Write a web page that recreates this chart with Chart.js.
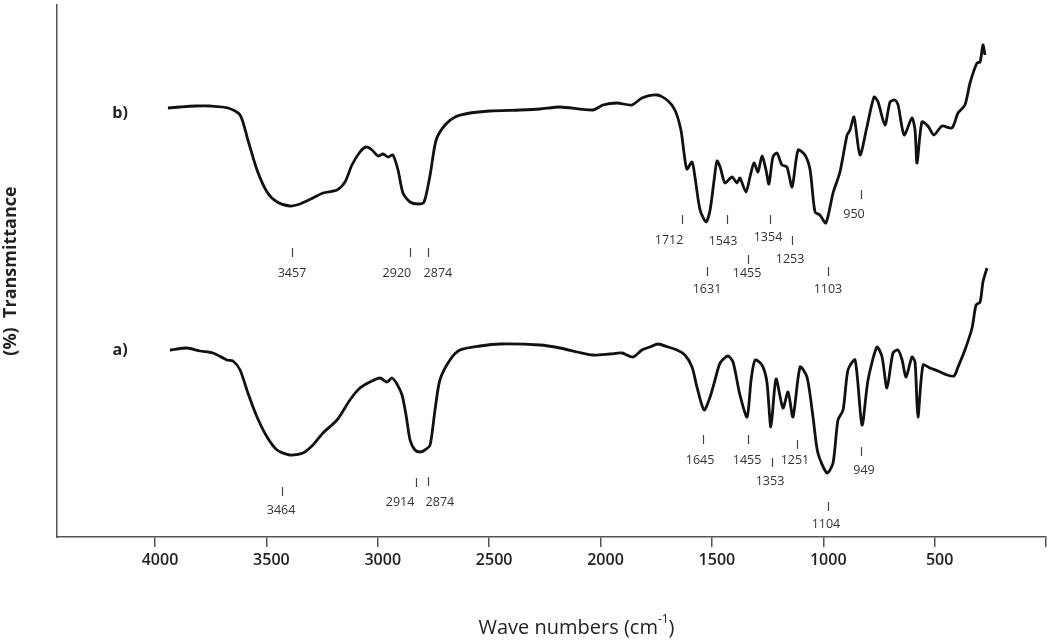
<!DOCTYPE html>
<html>
<head>
<meta charset="utf-8">
<script src="https://cdn.jsdelivr.net/npm/chart.js@4.4.1/dist/chart.umd.min.js"></script>
<style>
  html, body { margin: 0; padding: 0; background: #fff; }
</style>
</head>
<body>
<canvas id="ftir" width="1050" height="642"></canvas>
<script>
// spectrum b) - wavenumber (cm-1) / transmittance (arb. units, offset)
const waveB = [3942, 3888, 3820, 3753, 3672, 3618, 3583, 3542, 3497, 3452,
    3394, 3349, 3291, 3246, 3183, 3147, 3116, 3080, 3053, 3026,
    2999, 2976, 2954, 2932, 2909, 2887, 2855, 2819, 2792, 2765,
    2738, 2698, 2653, 2586, 2496, 2361, 2272, 2182, 2034, 1989,
    1926, 1859, 1814, 1746, 1701, 1666, 1639, 1625, 1612, 1589,
    1576, 1553, 1526, 1508, 1490, 1477, 1463, 1441, 1410, 1387,
    1374, 1347, 1329, 1311, 1293, 1275, 1257, 1244, 1226, 1208,
    1185, 1163, 1140, 1113, 1082, 1059, 1037, 1015, 988, 956,
    925, 893, 880, 862, 835, 804, 772, 754, 723, 700,
    678, 664, 637, 602, 588, 579, 557, 530, 503, 467,
    422, 395, 364, 341, 310, 296, 283, 274];
const transB = [429, 430, 431, 431, 429, 422, 397, 367, 345, 335,
    331, 333, 339, 344, 347, 355, 372, 385, 390, 387,
    381, 383, 380, 382, 367, 344, 335, 333, 335, 362,
    397, 412, 420, 424, 426, 427, 428, 430, 427, 432,
    434, 432, 439, 442, 437, 427, 407, 384, 368, 375,
    360, 327, 315, 327, 357, 376, 370, 354, 360, 354,
    359, 345, 360, 374, 365, 381, 367, 353, 380, 384,
    372, 370, 350, 387, 382, 367, 325, 322, 314, 344,
    365, 402, 407, 420, 382, 410, 440, 435, 412, 435,
    437, 432, 402, 419, 407, 374, 415, 411, 402, 411,
    409, 424, 432, 454, 474, 475, 492, 482];

// spectrum a)
const waveA = [3933, 3856, 3798, 3740, 3677, 3650, 3618, 3583, 3542, 3497,
    3452, 3394, 3336, 3291, 3246, 3183, 3125, 3080, 3035, 2990,
    2959, 2936, 2914, 2891, 2873, 2855, 2833, 2810, 2788, 2765,
    2743, 2721, 2676, 2631, 2541, 2451, 2272, 2182, 2105, 2034,
    1957, 1904, 1854, 1814, 1778, 1742, 1697, 1657, 1621, 1589,
    1567, 1535, 1508, 1486, 1463, 1428, 1405, 1374, 1342, 1324,
    1306, 1275, 1253, 1235, 1212, 1181, 1158, 1136, 1104, 1073,
    1046, 1024, 983, 956, 934, 911, 889, 857, 826, 799,
    759, 736, 714, 687, 664, 646, 628, 602, 588, 575,
    552, 521, 485, 444, 413, 395, 364, 332, 314, 296,
    283, 265];
const transA = [187, 189, 186, 184, 177, 176, 167, 144, 120, 100,
    87, 82, 84, 92, 104, 117, 137, 149, 155, 159,
    155, 159, 153, 142, 122, 97, 87, 85, 87, 92,
    127, 157, 177, 187, 191, 193, 192, 189, 185, 182,
    183, 184, 180, 187, 190, 193, 190, 187, 182, 170,
    150, 127, 140, 157, 174, 181, 175, 142, 120, 157,
    177, 172, 155, 110, 158, 129, 145, 120, 170, 160,
    120, 84, 64, 74, 117, 127, 167, 177, 112, 157,
    190, 180, 149, 184, 187, 177, 160, 180, 175, 120,
    172, 169, 166, 162, 161, 170, 187, 209, 232, 235,
    255, 269];

const xTicks = [4000, 3500, 3000, 2500, 2000, 1500, 1000, 500, 0];

// band labels: text, mark x, mark top y, label x, label y
const peaksB = [
    ['3457', 3385, 289, 3385, 264],
    ['2920', 2855, 289, 2914, 264],
    ['2874', 2774, 289, 2730, 264],
    ['1712', 1634, 322, 1692, 297],
    ['1543', 1432, 322, 1450, 296],
    ['1354', 1239, 322, 1248, 300],
    ['1253', 1140, 301, 1149, 278],
    ['1455', 1338, 282, 1342, 264],
    ['1631', 1522, 270, 1522, 248],
    ['1103', 979, 270, 979, 248],
    ['950', 830, 347, 862, 323]
];
const peaksA = [
    ['3464', 3430, 50, 3434, 27],
    ['2914', 2828, 59, 2900, 35],
    ['2874', 2774, 60, 2721, 35],
    ['1645', 1540, 102, 1553, 77],
    ['1455', 1338, 102, 1342, 77],
    ['1353', 1230, 79, 1239, 56],
    ['1251', 1118, 97, 1127, 77],
    ['949', 830, 90, 817, 67],
    ['1104', 979, 35, 988, 13]
];

const seriesNames = ['b)', 'a)'];
const seriesLabelX = [4157, 4157];
const seriesLabelY = [424, 187];

function toPoints(xs, ys) {
    return xs.map((x, i) => ({ x: x, y: ys[i] }));
}

const annotations = {
    id: 'annotations',
    afterDatasetsDraw(chart) {
        const { ctx, scales: { x, y } } = chart;
        ctx.save();
        ctx.strokeStyle = '#444';
        ctx.lineWidth = 1.2;
        ctx.fillStyle = '#333';
        ctx.font = '12.5px "Open Sans"';
        ctx.textAlign = 'center';
        ctx.textBaseline = 'middle';
        peaksB.concat(peaksA).forEach(([txt, tx, ty, lx, ly]) => {
            const px = Math.round(x.getPixelForValue(tx)) + 0.5;
            const py = y.getPixelForValue(ty);
            ctx.beginPath();
            ctx.moveTo(px, py);
            ctx.lineTo(px, py + 9);
            ctx.stroke();
            ctx.fillText(txt, x.getPixelForValue(lx), y.getPixelForValue(ly));
        });

        ctx.font = 'bold 16px "Open Sans"';
        ctx.fillStyle = '#222';
        seriesNames.forEach((name, i) => {
            ctx.fillText(name, x.getPixelForValue(seriesLabelX[i]), y.getPixelForValue(seriesLabelY[i]));
        });

        // x axis title with superscript
        const area = chart.chartArea;
        const cx = (area.left + area.right) / 2 + 25;
        const ty = 628;
        ctx.fillStyle = '#222';
        ctx.textAlign = 'left';
        ctx.font = '20px "Open Sans"';
        const main = 'Wave numbers (cm';
        const wMain = ctx.measureText(main).width;
        ctx.font = '12px "Open Sans"';
        const wSup = ctx.measureText('-1').width;
        ctx.font = '20px "Open Sans"';
        const wEnd = ctx.measureText(')').width;
        let sx = cx - (wMain + wSup + wEnd) / 2;
        ctx.fillText(main, sx, ty);
        sx += wMain;
        ctx.font = '12px "Open Sans"';
        ctx.fillText('-1', sx, ty - 8);
        sx += wSup;
        ctx.font = '20px "Open Sans"';
        ctx.fillText(')', sx, ty);
        ctx.restore();
    }
};

new Chart(document.getElementById('ftir'), {
    type: 'line',
    data: {
        datasets: [
            {
                label: 'b)',
                data: toPoints(waveB, transB),
                borderColor: '#111',
                borderWidth: 2.8,
                pointRadius: 0,
                tension: 0.25,
                fill: false
            },
            {
                label: 'a)',
                data: toPoints(waveA, transA),
                borderColor: '#111',
                borderWidth: 2.8,
                pointRadius: 0,
                tension: 0.25,
                fill: false
            }
        ]
    },
    options: {
        responsive: false,
        animation: false,
        layout: { padding: { top: 5, right: 4, left: 0, bottom: 0 } },
        plugins: {
            legend: { display: false },
            tooltip: { enabled: false }
        },
        scales: {
            x: {
                type: 'linear',
                reverse: true,
                min: 0,
                max: 4440,
                afterBuildTicks: (scale) => {
                    scale.ticks = xTicks.map(v => ({ value: v }));
                },
                afterFit: (scale) => { scale.height = 105; },
                ticks: {
                    autoSkip: false,
                    maxRotation: 0,
                    padding: 4,
                    labelOffset: 5,
                    color: '#222',
                    font: { family: 'Open Sans', size: 16, weight: '600' },
                    callback: (v) => (v === 0 ? '' : v)
                },
                grid: {
                    display: true,
                    drawOnChartArea: false,
                    drawTicks: true,
                    tickLength: 10,
                    color: '#555',
                    lineWidth: 1.5
                },
                border: { display: true, color: '#555', width: 1.5 }
            },
            y: {
                type: 'linear',
                min: 0,
                max: 532,
                afterFit: (scale) => { scale.width = 57; },
                ticks: { display: false },
                grid: { display: false },
                border: { display: true, color: '#555', width: 1.5 },
                title: {
                    display: true,
                    text: '(%)  Transmittance',
                    color: '#222',
                    padding: 0,
                    font: { family: 'Open Sans', size: 18, weight: 'bold' }
                }
            }
        }
    },
    plugins: [annotations]
});
</script>
</body>
</html>
